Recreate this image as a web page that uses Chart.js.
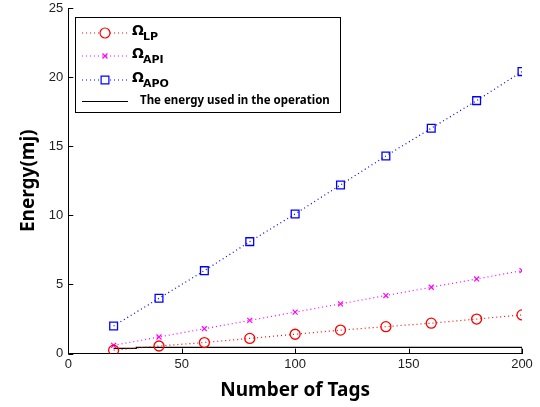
<!DOCTYPE html>
<html>
<head>
<meta charset="utf-8">
<script src="https://cdn.jsdelivr.net/npm/chart.js@4.4.1/dist/chart.umd.min.js"></script>
<style>
  body { margin: 0; background: #fff; }
  canvas { display: block; }
</style>
</head>
<body>
<canvas id="energyChart" width="540" height="407"></canvas>
<script>
// data
const tags = [20, 40, 60, 80, 100, 120, 140, 160, 180, 200];
const energyLP = [0.25, 0.55, 0.8, 1.1, 1.4, 1.7, 1.95, 2.2, 2.5, 2.8];
const energyAPI = [0.6, 1.2, 1.8, 2.4, 3.0, 3.6, 4.2, 4.8, 5.4, 6.0];
const energyAPO = [2.0, 4.0, 6.0, 8.1, 10.1, 12.2, 14.3, 16.3, 18.3, 20.4];
const opTags = [20, 30, 30, 200, 200];
const opEnergy = [0.38, 0.38, 0.45, 0.45, 0];
const seriesSubs = ["LP", "API", "APO"];
const opLabel = "The energy used in the operation";
const xTicks = [0, 50, 100, 150, 200];
const yTicks = [0, 5, 10, 15, 20, 25];

const toPoints = (xs, ys) => xs.map((x, i) => ({ x: x, y: ys[i] }));

// ticks drawn inward like the original
const inwardTicks = {
  id: "inwardTicks",
  afterDatasetsDraw(chart) {
    const { ctx, chartArea, scales } = chart;
    ctx.save();
    ctx.strokeStyle = "#000";
    ctx.lineWidth = 1;
    ctx.beginPath();
    xTicks.forEach((v) => {
      const px = Math.round(scales.x.getPixelForValue(v)) + 0.5;
      ctx.moveTo(px, chartArea.bottom);
      ctx.lineTo(px, chartArea.bottom - 5);
    });
    yTicks.forEach((v) => {
      const py = Math.round(scales.y.getPixelForValue(v)) + 0.5;
      ctx.moveTo(chartArea.left, py);
      ctx.lineTo(chartArea.left + 5, py);
    });
    ctx.stroke();
    ctx.restore();
  },
};

// legend with subscripts, drawn by hand
const subLegend = {
  id: "subLegend",
  afterDraw(chart) {
    const ctx = chart.ctx;
    const box = { x: 75.5, y: 17.5, w: 265, h: 95 };
    ctx.save();
    ctx.fillStyle = "#fff";
    ctx.fillRect(box.x, box.y, box.w, box.h);
    ctx.strokeStyle = "#000";
    ctx.lineWidth = 1;
    ctx.strokeRect(box.x, box.y, box.w, box.h);

    const rows = [33, 56, 80];
    chart.data.datasets.slice(0, 3).forEach((ds, i) => {
      const y = rows[i];
      ctx.strokeStyle = ds.borderColor;
      ctx.lineWidth = 1.2;
      ctx.setLineDash([1, 3]);
      ctx.beginPath();
      ctx.moveTo(82, y);
      ctx.lineTo(128, y);
      ctx.stroke();
      ctx.setLineDash([]);
      ctx.fillStyle = "#fff";
      Chart.helpers.drawPoint(ctx, {
        pointStyle: ds.pointStyle,
        radius: ds.pointRadius,
        borderWidth: 1.3,
      }, 105, y);
      ctx.fillStyle = "#000";
      ctx.textBaseline = "alphabetic";
      ctx.font = "bold 14px 'DejaVu Sans'";
      ctx.fillText("Ω", 132, y + 2);
      ctx.font = "bold 11px 'DejaVu Sans'";
      ctx.fillText(seriesSubs[i], 143, y + 7);
    });

    ctx.strokeStyle = "#000";
    ctx.lineWidth = 1;
    ctx.beginPath();
    ctx.moveTo(82, 101.5);
    ctx.lineTo(128, 101.5);
    ctx.stroke();
    ctx.fillStyle = "#000";
    ctx.font = "bold 11.5px 'Noto Sans'";
    ctx.textBaseline = "middle";
    ctx.fillText(opLabel, 140, 101);
    ctx.restore();
  },
};

const dotted = [1, 3];

new Chart(document.getElementById("energyChart"), {
  type: "scatter",
  data: {
    datasets: [
      {
        label: "LP",
        data: toPoints(tags, energyLP),
        showLine: true,
        borderColor: "#ff0000",
        borderWidth: 1.2,
        borderDash: dotted,
        pointStyle: "circle",
        pointRadius: 5,
        pointBorderWidth: 1.3,
        pointBackgroundColor: "rgba(0,0,0,0)",
      },
      {
        label: "API",
        data: toPoints(tags, energyAPI),
        showLine: true,
        borderColor: "#ff00ff",
        borderWidth: 1.2,
        borderDash: dotted,
        pointStyle: "crossRot",
        pointRadius: 3.5,
        pointBorderWidth: 1.2,
      },
      {
        label: "APO",
        data: toPoints(tags, energyAPO),
        showLine: true,
        borderColor: "#0000ff",
        borderWidth: 1.2,
        borderDash: dotted,
        pointStyle: "rect",
        pointRadius: 5.5,
        pointBorderWidth: 1.3,
        pointBackgroundColor: "rgba(0,0,0,0)",
      },
      {
        label: opLabel,
        data: toPoints(opTags, opEnergy),
        showLine: true,
        borderColor: "#000",
        borderWidth: 1.2,
        pointRadius: 0,
      },
    ],
  },
  options: {
    responsive: false,
    animation: false,
    layout: { padding: { top: 8, right: 18, bottom: 5, left: 17 } },
    plugins: {
      legend: { display: false },
      tooltip: { enabled: false },
    },
    scales: {
      x: {
        type: "linear",
        min: 0,
        max: 200,
        afterBuildTicks: (axis) => { axis.ticks = xTicks.map((v) => ({ value: v })); },
        grid: { display: false, drawTicks: false },
        border: { color: "#000", width: 1 },
        ticks: { color: "#222", font: { family: "'Liberation Sans'", size: 13 }, padding: 3 },
        title: {
          display: true,
          text: "Number of Tags",
          color: "#000",
          font: { family: "'Noto Sans'", size: 19, weight: "bold" },
          padding: { top: 4, bottom: 0 },
        },
      },
      y: {
        min: 0,
        max: 25,
        afterBuildTicks: (axis) => { axis.ticks = yTicks.map((v) => ({ value: v })); },
        afterFit: (axis) => { axis.paddingTop = 0; },
        grid: { display: false, drawTicks: false },
        border: { color: "#000", width: 1 },
        ticks: { color: "#222", font: { family: "'Liberation Sans'", size: 13 }, padding: 5 },
        title: {
          display: true,
          text: "Energy(mj)",
          color: "#000",
          font: { family: "'Noto Sans'", size: 19, weight: "bold" },
          padding: { top: 0, bottom: 4 },
        },
      },
    },
  },
  plugins: [inwardTicks, subLegend],
});
</script>
</body>
</html>
